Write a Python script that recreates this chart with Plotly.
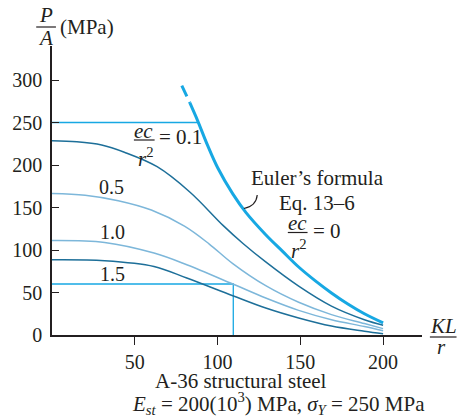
import plotly.graph_objects as go

# ---------------- data ----------------
euler_dash_x = [78.4, 83.3]
euler_dash_y = [293.4, 273.0]
euler_x = [83.3, 88.0, 94.0, 100.0, 109.2, 117.2, 129.1, 139.0, 149.0, 158.9, 168.8, 178.7, 188.7, 200.0]
euler_y = [273.0, 252.0, 223.0, 197.0, 166.0, 144.0, 118.0, 99.0, 80.0, 64.0, 49.5, 36.5, 25.0, 14.3]

c01_x = [0, 15, 30, 43.7, 63.5, 83.4, 103.3, 115.2, 129.1, 149.0, 168.8, 188.7, 200]
c01_y = [228.5, 227.3, 223.5, 215.0, 198.0, 168.0, 129.0, 108.0, 86.0, 57.5, 34.0, 18.0, 11.5]

c05_x = [0, 20, 40, 60, 80, 95, 109.2, 129.1, 149.0, 168.8, 188.7, 200]
c05_y = [166.5, 164.5, 158.0, 147.0, 128.0, 107.0, 84.0, 58.0, 38.5, 24.0, 13.5, 7.5]

c10_x = [0, 31.8, 61.6, 81.4, 109.2, 129.1, 149.0, 168.8, 188.7, 200]
c10_y = [111.2, 108.9, 96.4, 82.7, 60.0, 43.5, 29.0, 18.0, 10.0, 5.0]

c15_x = [0, 31.8, 61.6, 81.4, 109.2, 129.1, 149.0, 168.8, 188.7, 200]
c15_y = [88.5, 87.4, 80.7, 67.0, 46.2, 31.7, 20.0, 10.5, 4.5, 1.5]

yield_x = [0, 88.0]
yield_y = [250, 250]
box_x = [0, 109.5, 109.5]
box_y = [60, 60, 0]

x_ticks = [50, 100, 150, 200]
y_ticks = [0, 50, 100, 150, 200, 250, 300]

# ---------------- styling ----------------
W, H = 459, 417
L, R, T, B = 47, 37, 46, 82
FONT = "Liberation Serif"
TXT = "#231f20"
BRIGHT = "#17a8e3"
DARK = "#1d6f99"
LIGHT = "#7db7da"


def pxp(x, y):
    """pixel (from top-left of the page) -> paper coordinates"""
    return (x - L) / (W - L - R), (H - B - y) / (H - T - B)


fig = go.Figure()

def line(x, y, color, width, dash=None, spline=True):
    fig.add_trace(go.Scatter(
        x=x, y=y, mode="lines",
        line=dict(color=color, width=width, dash=dash,
                  shape="spline" if spline else "linear", smoothing=1.0),
        hoverinfo="skip", showlegend=False, cliponaxis=False))

line(yield_x, yield_y, BRIGHT, 1.3, spline=False)
line(box_x, box_y, BRIGHT, 1.3, spline=False)
line(c15_x, c15_y, DARK, 1.5)
line(c10_x, c10_y, LIGHT, 1.5)
line(c05_x, c05_y, LIGHT, 1.5)
line(c01_x, c01_y, DARK, 1.5)
line(euler_x, euler_y, BRIGHT, 3.0)
line(euler_dash_x, euler_dash_y, BRIGHT, 3.0, dash="12px,6px", spline=False)

annotations = []
shapes = []

def text(x, y, s, size=21, anchor="center"):
    px, py = pxp(x, y)
    annotations.append(dict(x=px, y=py, xref="paper", yref="paper", text=s,
                            showarrow=False, xanchor=anchor, yanchor="middle",
                            font=dict(family=FONT, size=size, color=TXT)))

def bar(x0, x1, y):
    a, b = pxp(x0, y)
    c, d = pxp(x1, y)
    shapes.append(dict(type="line", xref="paper", yref="paper", x0=a, y0=b, x1=c, y1=d,
                       line=dict(color=TXT, width=1.2)))

# y-axis title  P/A (MPa)
text(41, 15, "<i>P</i>", 21)
bar(31, 51, 27)
text(40, 38, "<i>A</i>", 21)
text(53, 27, "(MPa)", 21, anchor="left")

# x-axis title  KL/r
text(444, 326, "<i>KL</i>", 21)
bar(430, 457, 337)
text(442, 347, "<i>r</i>", 21)

# ec/r^2 = 0.1
text(140, 131, "<i>ec</i>", 21)
bar(130, 151, 140)
text(142, 157, "<i>r</i><sup>2</sup>", 21)
text(153, 137, "= 0.1", 21, anchor="left")

text(107, 187, "0.5", 20)
text(108, 232, "1.0", 20)
text(108, 274, "1.5", 20)

text(316, 178, "Euler’s formula", 21)
text(316, 203, "Eq. 13–6", 21)
text(296, 223, "<i>ec</i>", 21)
bar(286, 306, 232.5)
text(297, 249, "<i>r</i><sup>2</sup>", 21)
text(309, 231, "= 0", 21, anchor="left")

# pointer hook
a, b = pxp(241.5, 208.5)
c, d = pxp(255, 195)
e, f = pxp(254, 206)
shapes.append(dict(type="path", xref="paper", yref="paper",
                   path=f"M {a},{b} Q {e},{f} {c},{d}",
                   line=dict(color=TXT, width=1.2)))

text(239, 381, "A-36 structural steel", 21)
text(277, 404, "<i>E</i><sub><i>st</i></sub> = 200(10<sup>3</sup>) MPa, <i>σ</i><sub><i>Y</i></sub> = 250 MPa", 21)

fig.update_layout(
    width=W, height=H,
    margin=dict(l=L, r=R, t=T, b=B, pad=0),
    paper_bgcolor="white", plot_bgcolor="white",
    font=dict(family=FONT, size=20, color=TXT),
    hovermode=False,
    annotations=annotations, shapes=shapes,
    xaxis=dict(range=[0, 223.5], tickvals=x_ticks, ticks="outside", ticklen=8,
               tickwidth=1.3, tickcolor=TXT, showline=True, linecolor=TXT,
               linewidth=1.6, showgrid=False, zeroline=False,
               tickfont=dict(family=FONT, size=20, color=TXT)),
    yaxis=dict(range=[0, 340], tickvals=y_ticks, ticks="inside", ticklen=7,
               tickwidth=1.3, tickcolor=TXT, showline=True, linecolor=TXT,
               linewidth=1.6, showgrid=False, zeroline=False,
               ticklabelstandoff=4,
               tickfont=dict(family=FONT, size=20, color=TXT)),
)

fig.write_html("out.html", config={"displayModeBar": False},
               post_script="document.body.style.margin='0';document.body.style.overflow='hidden';")
